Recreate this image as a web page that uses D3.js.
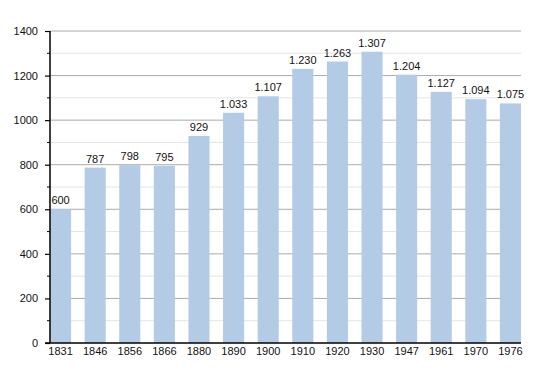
<!DOCTYPE html>
<html>
<head>
<meta charset="utf-8">
<script src="https://cdn.jsdelivr.net/npm/d3@7"></script>
<style>
  body { margin: 0; background: #fff; }
  text { font-family: "Liberation Sans", Arial, sans-serif; font-size: 11px; fill: #111; }
</style>
</head>
<body>
<div id="chart"></div>
<script>
//data
const years = ["1831", "1846", "1856", "1866", "1880", "1890", "1900", "1910", "1920", "1930", "1947", "1961", "1970", "1976"];
const population = [600, 787, 798, 795, 929, 1033, 1107, 1230, 1263, 1307, 1204, 1127, 1094, 1075];
const majorTicks = [0, 200, 400, 600, 800, 1000, 1200, 1400];
const minorTicks = [100, 300, 500, 700, 900, 1100, 1300];

//set parameters
const margin = { top: 31, right: 29, bottom: 30, left: 50 };
const width = 550 - margin.left - margin.right;
const height = 373 - margin.top - margin.bottom;

const svg = d3
  .select("#chart")
  .append("svg")
  .attr("width", 550)
  .attr("height", 373)
  .append("g")
  .attr("transform", `translate(${margin.left}, ${margin.top})`);

const x = d3.scaleBand().domain(years).range([0, width]).paddingInner(0.39).paddingOuter(0);
const y = d3.scaleLinear().domain([0, 1400]).range([height, 0]);

//grid lines
svg
  .selectAll(".minor")
  .data(minorTicks)
  .enter()
  .append("line")
  .attr("class", "minor")
  .attr("x1", 0)
  .attr("x2", width)
  .attr("y1", (d) => y(d))
  .attr("y2", (d) => y(d))
  .attr("stroke", "#e4e4e4");
svg
  .selectAll(".major")
  .data(majorTicks.slice(1))
  .enter()
  .append("line")
  .attr("class", "major")
  .attr("x1", 0)
  .attr("x2", width)
  .attr("y1", (d) => y(d))
  .attr("y2", (d) => y(d))
  .attr("stroke", "#aaaaaa");

//bars
svg
  .selectAll(".bar")
  .data(population)
  .enter()
  .append("rect")
  .attr("class", "bar")
  .attr("x", (d, i) => x(years[i]))
  .attr("y", (d) => y(d))
  .attr("width", x.bandwidth())
  .attr("height", (d) => y(0) - y(d))
  .attr("fill", "#b3cbe5");

//labels
const format = d3.formatLocale({ decimal: ",", thousands: ".", grouping: [3], currency: ["", ""] }).format(",");
svg
  .selectAll(".label")
  .data(population)
  .enter()
  .append("text")
  .attr("class", "label")
  .attr("x", (d, i) => x(years[i]) + x.bandwidth() / 2)
  .attr("y", (d) => y(d) - 5)
  .attr("text-anchor", "middle")
  .text((d) => format(d));

//axes
svg
  .append("g")
  .call(d3.axisLeft(y).tickValues(majorTicks).tickSize(5).tickPadding(7).tickFormat(d3.format("d")))
  .call((g) => g.select(".domain").remove())
  .call((g) => g.selectAll("line").attr("stroke", "#000").attr("stroke-width", 1.2))
  .call((g) => g.selectAll("text").attr("font-size", 11).attr("font-family", null).attr("fill", "#111"));
svg
  .selectAll(".minortick")
  .data(minorTicks)
  .enter()
  .append("line")
  .attr("class", "minortick")
  .attr("x1", -3)
  .attr("x2", 0)
  .attr("y1", (d) => y(d))
  .attr("y2", (d) => y(d))
  .attr("stroke", "#000");
svg
  .append("line")
  .attr("x1", 0)
  .attr("x2", 0)
  .attr("y1", y(1400))
  .attr("y2", y(0))
  .attr("stroke", "#000")
  .attr("stroke-width", 1.5);

svg
  .append("g")
  .attr("transform", `translate(0, ${height})`)
  .call(d3.axisBottom(x).tickSize(0).tickPadding(4))
  .call((g) => g.select(".domain").remove())
  .call((g) => g.selectAll("text").attr("font-size", 11).attr("font-family", null).attr("fill", "#111"));
svg
  .append("line")
  .attr("x1", -5)
  .attr("x2", width)
  .attr("y1", y(0))
  .attr("y2", y(0))
  .attr("stroke", "#000")
  .attr("stroke-width", 1.5);
</script>
</body>
</html>
